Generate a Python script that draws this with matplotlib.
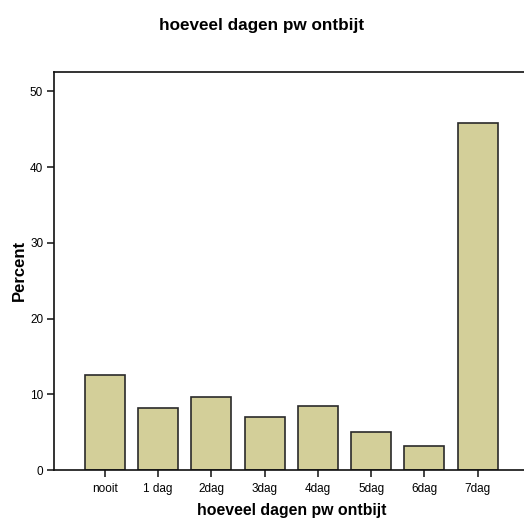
import matplotlib
matplotlib.use("Agg")
import matplotlib.pyplot as plt

plt.rcParams["font.family"] = ["Liberation Sans", "DejaVu Sans"]

categories = ["nooit", "1 dag", "2dag", "3dag", "4dag", "5dag", "6dag", "7dag"]
percent = [12.5, 8.2, 9.7, 7.0, 8.4, 5.0, 3.2, 45.8]
yticks = [0, 10, 20, 30, 40, 50]

fig = plt.figure(figsize=(5.24, 5.19), dpi=100)
ax = fig.add_axes([0.1036, 0.0944, 0.8964 + 0.01, 0.7674])

x = list(range(len(categories)))
ax.bar(x, percent, width=0.75, color="#d3cf99", edgecolor="#2a2a2a", linewidth=1.2, zorder=2)

ax.set_xlim(-0.95, 7.87 + 0.1)
ax.set_ylim(0, 52.6)
ax.set_xticks(x)
ax.set_xticklabels(categories, fontsize=8.5)
ax.set_yticks(yticks)
ax.set_yticklabels([str(v) for v in yticks], fontsize=8.5)
ax.tick_params(direction="out", length=5, width=1.2, color="#222222", pad=3)
ax.tick_params(axis="x", pad=4.5)

ax.spines["right"].set_visible(False)
for s in ["left", "top", "bottom"]:
    ax.spines[s].set_linewidth(1.2)
    ax.spines[s].set_color("#111111")

ax.set_xlabel("hoeveel dagen pw ontbijt", fontsize=11.4, fontweight="bold", labelpad=5.5)
ax.set_ylabel("Percent", fontsize=12, fontweight="bold", labelpad=2.5)

fig.text(0.5, 0.951, "hoeveel dagen pw ontbijt", ha="center", va="center",
         fontsize=12.3, fontweight="bold")

fig.savefig("out.png", dpi=100)
